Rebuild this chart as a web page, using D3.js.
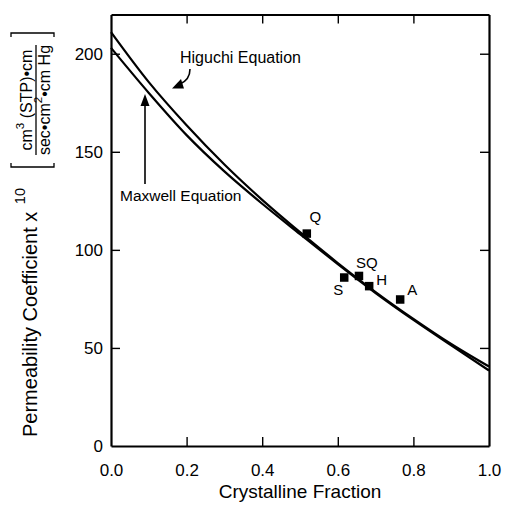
<!DOCTYPE html>
<html>
<head>
<meta charset="utf-8">
<script src="https://cdn.jsdelivr.net/npm/d3@7/dist/d3.min.js"></script>
<style>
  html, body { margin: 0; padding: 0; background: #fff; }
  svg { display: block; }
  text { font-family: "Liberation Sans", Arial, Helvetica, sans-serif; fill: #000; }
</style>
</head>
<body>
<svg id="chart" width="505" height="509"></svg>
<script>
// ---- data ----
const fraction = [0, 0.1, 0.2, 0.3, 0.4, 0.5, 0.6, 0.7, 0.8, 0.9, 1.0];
const maxwell  = [203, 180, 158.5, 140, 123.5, 108, 92.7, 78, 64.3, 51.3, 38.5];
const higuchi  = [211, 185.5, 163.5, 143.5, 125.5, 109, 93.3, 78.5, 64.8, 52, 40.5];

const sampleNames = ["Q", "S", "SQ", "H", "A"];
const sampleX = [0.518, 0.617, 0.656, 0.683, 0.765];
const sampleY = [108.3, 85.9, 86.7, 81.5, 74.7];

const xTicks = [0, 0.2, 0.4, 0.6, 0.8, 1.0];
const xTickLabels = ["0.0", "0.2", "0.4", "0.6", "0.8", "1.0"];
const yTicks = [0, 50, 100, 150, 200];
const yTickLabels = ["0", "50", "100", "150", "200"];

// ---- layout ----
const svg = d3.select("#chart");
const pLeft = 111, pRight = 489, pTop = 14.5, pBottom = 446;
const x = d3.scaleLinear().domain([0, 1]).range([pLeft, pRight]);
const y = d3.scaleLinear().domain([0, 220]).range([pBottom, pTop]);

// label offsets (pixels) for sample labels
const labelDx = [8.5, -6, 8, 12.5, 12];
const labelDy = [-12, 17.5, -8, -1, -4];

// ---- axes ----
const tickLen = 9;
function styleAxis(g) {
  g.select(".domain").attr("stroke", "#000").attr("stroke-width", 2.2);
  g.selectAll(".tick line").attr("stroke", "#000").attr("stroke-width", 1.4);
  g.selectAll(".tick text").attr("font-size", 17).attr("font-family", "Liberation Sans, Arial, sans-serif");
}
svg.append("g").attr("transform", `translate(0,${pBottom})`)
  .call(d3.axisBottom(x).tickValues(xTicks).tickFormat((d, i) => xTickLabels[i])
        .tickSizeInner(-tickLen).tickSizeOuter(0).tickPadding(18))
  .call(styleAxis);
svg.append("g").attr("transform", `translate(0,${pTop})`)
  .call(d3.axisTop(x).tickValues(xTicks).tickFormat("")
        .tickSizeInner(-tickLen).tickSizeOuter(0))
  .call(styleAxis);
svg.append("g").attr("transform", `translate(${pLeft},0)`)
  .call(d3.axisLeft(y).tickValues(yTicks).tickFormat((d, i) => yTickLabels[i])
        .tickSizeInner(-tickLen).tickSizeOuter(0).tickPadding(8))
  .call(styleAxis);
svg.append("g").attr("transform", `translate(${pRight},0)`)
  .call(d3.axisRight(y).tickValues(yTicks).tickFormat("")
        .tickSizeInner(-tickLen).tickSizeOuter(0))
  .call(styleAxis);
// remove ticks at the corners (0 and 1 values)
svg.selectAll(".tick").filter(d => d === 0 || d === 1).select("line").remove();

// ---- curves ----
const line = d3.line().x((d, i) => x(fraction[i])).y(d => y(d)).curve(d3.curveMonotoneX);
svg.append("path").datum(maxwell).attr("d", line)
  .attr("fill", "none").attr("stroke", "#000").attr("stroke-width", 2.2);
svg.append("path").datum(higuchi).attr("d", line)
  .attr("fill", "none").attr("stroke", "#000").attr("stroke-width", 2.2);

// ---- sample points ----
const sq = 8.5;
svg.selectAll("rect.pt").data(sampleNames).join("rect").attr("class", "pt")
  .attr("x", (d, i) => x(sampleX[i]) - sq / 2)
  .attr("y", (d, i) => y(sampleY[i]) - sq / 2)
  .attr("width", sq).attr("height", sq).attr("fill", "#000");
svg.selectAll("text.ptlab").data(sampleNames).join("text").attr("class", "ptlab")
  .attr("x", (d, i) => x(sampleX[i]) + labelDx[i])
  .attr("y", (d, i) => y(sampleY[i]) + labelDy[i])
  .attr("text-anchor", "middle").attr("font-size", 15).text(d => d);

// ---- annotations ----
svg.append("text").attr("x", 180).attr("y", 63).attr("font-size", 16).text("Higuchi Equation");
svg.append("text").attr("x", 120).attr("y", 201).attr("font-size", 15.5).text("Maxwell Equation");

// Maxwell arrow
svg.append("line").attr("x1", 145).attr("y1", 184).attr("x2", 145).attr("y2", 104)
  .attr("stroke", "#000").attr("stroke-width", 1.6);
svg.append("path").attr("d", "M145,94 L140.5,106 L149.5,106 Z").attr("fill", "#000");
// Higuchi curved arrow
svg.append("path").attr("d", "M190,69 C190,76 187,81 180,84")
  .attr("fill", "none").attr("stroke", "#000").attr("stroke-width", 1.6);
svg.append("path").attr("d", "M172,88.5 L181,79 L184,88.5 Z").attr("fill", "#000");

// ---- x title ----
svg.append("text").attr("x", (pLeft + pRight) / 2).attr("y", 498)
  .attr("text-anchor", "middle").attr("font-size", 19).text("Crystalline Fraction");

// ---- y title (rotated) ----
const yt = svg.append("g").attr("transform", "translate(37,437) rotate(-90)");
const mainT = yt.append("text").attr("x", 0).attr("y", 0).attr("font-size", 20);
mainT.append("tspan").text("Permeability Coefficient x ");
mainT.append("tspan").attr("font-size", 14.5).attr("dy", -12).attr("dx", 2).text("10");

// bracket
const bx0 = 270, bx1 = 404, by0 = -26, by1 = 17;
yt.append("path").attr("d", `M${bx0 + 4},${by0} L${bx0},${by0} L${bx0},${by1} L${bx0 + 4},${by1}`)
  .attr("fill", "none").attr("stroke", "#000").attr("stroke-width", 1.3);
yt.append("path").attr("d", `M${bx1 - 4},${by0} L${bx1},${by0} L${bx1},${by1} L${bx1 - 4},${by1}`)
  .attr("fill", "none").attr("stroke", "#000").attr("stroke-width", 1.3);
// fraction
const fc = 337;
const num = yt.append("text").attr("x", fc).attr("y", -5).attr("text-anchor", "middle").attr("font-size", 16);
num.append("tspan").text("cm");
num.append("tspan").attr("font-size", 11.5).attr("dy", -8).text("3");
num.append("tspan").attr("dy", 8).text(" (STP)\u2022cm");
yt.append("line").attr("x1", fc - 55).attr("x2", fc + 55).attr("y1", -1).attr("y2", -1)
  .attr("stroke", "#000").attr("stroke-width", 1.3);
const den = yt.append("text").attr("x", fc).attr("y", 13).attr("text-anchor", "middle").attr("font-size", 16);
den.append("tspan").text("sec\u2022cm");
den.append("tspan").attr("font-size", 11.5).attr("dy", -8).text("2");
den.append("tspan").attr("dy", 8).text("\u2022cm Hg");
</script>
</body>
</html>
